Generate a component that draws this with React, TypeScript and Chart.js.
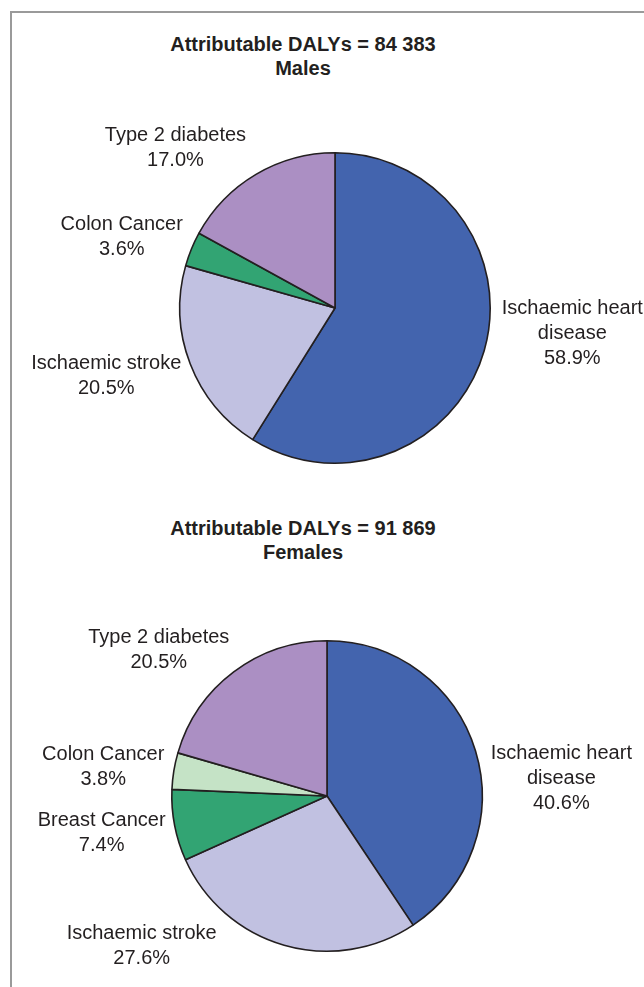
import React, { useEffect, useRef } from "react";
import { Chart, registerables } from "chart.js";

Chart.register(...registerables);

// ---- data ----
const maleTitle = ["Attributable DALYs = 84 383", "Males"];
const maleCategories = [["Ischaemic heart", "disease"], ["Ischaemic stroke"], ["Colon Cancer"], ["Type 2 diabetes"]];
const maleValues = [58.9, 20.5, 3.6, 17.0];

const femaleTitle = ["Attributable DALYs = 91 869", "Females"];
const femaleCategories = [["Ischaemic heart", "disease"], ["Ischaemic stroke"], ["Breast Cancer"], ["Colon Cancer"], ["Type 2 diabetes"]];
const femaleValues = [40.6, 27.6, 7.4, 3.8, 20.5];

// ---- styles / layout ----
const maleColors = ["#4364ae", "#c1c1e1", "#32a473", "#ab8fc3"];
const femaleColors = ["#4364ae", "#c1c1e1", "#32a473", "#c5e3c6", "#ab8fc3"];
// label centre offsets, in units of the pie radius, from the pie centre
const maleLabelOffsets = [[1.529, 0.161], [-1.474, 0.439], [-1.374, -0.455], [-1.028, -1.032]];
const femaleLabelOffsets = [[1.51, -0.116], [-1.194, 0.968], [-1.452, 0.239], [-1.442, -0.19], [-1.084, -0.942]];

const TEXT = "#231f20";
const FONT = "'Liberation Sans', Arial, Helvetica, sans-serif";

const outsideLabels = {
  id: "outsideLabels",
  afterDatasetsDraw(chart: any, _args: any, opts: any) {
    const ctx = chart.ctx;
    const meta = chart.getDatasetMeta(0);
    const ds = chart.data.datasets[0];
    ctx.save();
    ctx.font = `20px ${FONT}`;
    ctx.fillStyle = TEXT;
    ctx.textAlign = "center";
    ctx.textBaseline = "middle";
    meta.data.forEach((arc: any, i: number) => {
      const { x, y, outerRadius } = arc.getProps(["x", "y", "outerRadius"], true);
      const lab = chart.data.labels[i];
      const lines = [...(Array.isArray(lab) ? lab : [lab]), (ds.data[i] as number).toFixed(1) + "%"];
      const [fx, fy] = opts.offsets[i];
      const cx = x + fx * outerRadius;
      const cy = y + fy * outerRadius;
      const lh = 25;
      lines.forEach((t: string, k: number) => {
        ctx.fillText(t, cx, cy + (k - (lines.length - 1) / 2) * lh);
      });
    });
    ctx.restore();
  },
};

type PieProps = {
  labels: string[][];
  values: number[];
  colors: string[];
  offsets: number[][];
  left: number;
  top: number;
  width: number;
  height: number;
  padding: { left: number; right: number; top: number; bottom: number };
};

function PieChart(p: PieProps) {
  const ref = useRef<HTMLCanvasElement | null>(null);
  useEffect(() => {
    if (!ref.current) return;
    const chart = new Chart(ref.current, {
      type: "pie",
      data: {
        labels: p.labels as any,
        datasets: [
          {
            data: p.values,
            backgroundColor: p.colors,
            borderColor: TEXT,
            borderWidth: 1.6,
          },
        ],
      },
      options: {
        responsive: false,
        animation: false,
        layout: { padding: p.padding },
        plugins: {
          legend: { display: false },
          tooltip: { enabled: false },
          title: { display: false },
          outsideLabels: { offsets: p.offsets },
        } as any,
      },
      plugins: [outsideLabels],
    });
    return () => chart.destroy();
  }, []);
  return (
    <canvas
      ref={ref}
      width={p.width}
      height={p.height}
      style={{ position: "absolute", left: p.left, top: p.top, width: p.width, height: p.height }}
    />
  );
}

function Title({ lines, top }: { lines: string[]; top: number }) {
  return (
    <div
      style={{
        position: "absolute",
        left: 12,
        top,
        width: 582,
        textAlign: "center",
        fontFamily: FONT,
        fontWeight: "bold",
        fontSize: 20,
        lineHeight: "24px",
        color: TEXT,
      }}
    >
      {lines.map((l, i) => (
        <div key={i}>{l}</div>
      ))}
    </div>
  );
}

export default function App() {
  return (
    <div style={{ position: "fixed", left: 0, top: 0, width: 644, height: 987, overflow: "hidden", background: "#fff" }}>
      <div
        style={{
          position: "absolute",
          left: 10,
          top: 11,
          width: 700,
          height: 1100,
          borderLeft: "2px solid #9a9a9a",
          borderTop: "2px solid #9a9a9a",
        }}
      />
      <Title lines={maleTitle} top={32} />
      <PieChart
        labels={maleCategories}
        values={maleValues}
        colors={maleColors}
        offsets={maleLabelOffsets}
        left={12}
        top={90}
        width={632}
        height={390}
        padding={{ left: 167, right: 153, top: 62, bottom: 16 }}
      />
      <Title lines={femaleTitle} top={516} />
      <PieChart
        labels={femaleCategories}
        values={femaleValues}
        colors={femaleColors}
        offsets={femaleLabelOffsets}
        left={12}
        top={600}
        width={632}
        height={387}
        padding={{ left: 159, right: 161, top: 40, bottom: 35 }}
      />
    </div>
  );
}
